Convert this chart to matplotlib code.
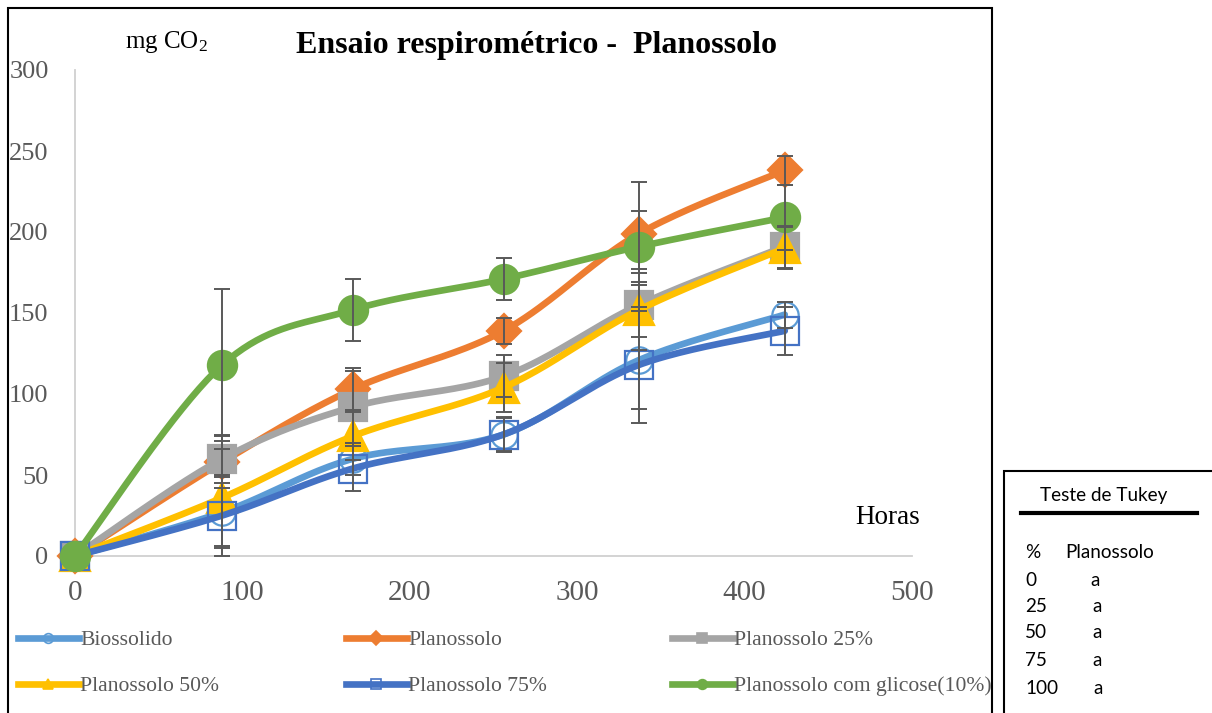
import numpy as np
import matplotlib.pyplot as plt
from matplotlib.lines import Line2D
from matplotlib.patches import Rectangle

plt.rcParams['font.family'] = ['Liberation Serif', 'DejaVu Serif']
plt.rcParams['mathtext.fontset'] = 'custom'
plt.rcParams['mathtext.rm'] = 'Liberation Serif'
plt.rcParams['mathtext.it'] = 'Liberation Serif:italic'

# data
horas = [0, 88, 166, 256, 337, 424]
biossolido = [0, 27, 60, 75, 121, 149]
planossolo = [0, 58, 103, 139, 199, 238]
plan25 = [0, 60, 92, 111, 155, 191]
plan50 = [0, 36, 74, 104, 152, 190]
plan75 = [0, 25, 54, 75, 118, 139]
glicose = [0, 118, 152, 171, 191, 209]

err_bio = [0, 22, 10, 11, 30, 8]
err_plan = [0, 16, 13, 8, 32, 9]
err_25 = [0, 15, 22, 13, 20, 13]
err_50 = [0, 30, 15, 15, 25, 13]
err_75 = [0, 25, 14, 10, 36, 15]
err_gli = [0, 47, 19, 13, 22, 20]

labels = ['Biossolido', 'Planossolo', 'Planossolo 25%',
          'Planossolo 50%', 'Planossolo 75%', 'Planossolo com glicose(10%)']

tukey_pct = ['0', '25', '50', '75', '100']
tukey_grp = ['a', 'a', 'a', 'a', 'a']

colors = ['#5B9BD5', '#ED7D31', '#A5A5A5', '#FFC000', '#4472C4', '#70AD47']
markers = ['o', 'D', 's', '^', 's', 'o']
filled = [False, True, True, True, False, True]
msizes = [19, 17, 20, 21, 20, 21]


def smooth(x, y, n=40):
    # excel style smoothed line (bezier with catmull-rom control points)
    p = np.column_stack([x, y]).astype(float)
    out = []
    for i in range(len(p) - 1):
        p0 = p[i - 1] if i > 0 else p[i]
        p1 = p[i]
        p2 = p[i + 1]
        p3 = p[i + 2] if i + 2 < len(p) else p[i + 1]
        c1 = p1 + (p2 - p0) / 6
        c2 = p2 - (p3 - p1) / 6
        t = np.linspace(0, 1, n)[:, None]
        b = (1 - t)**3 * p1 + 3 * (1 - t)**2 * t * c1 + 3 * (1 - t) * t**2 * c2 + t**3 * p2
        out.append(b if i == 0 else b[1:])
    out = np.vstack(out)
    return out[:, 0], out[:, 1]


fig = plt.figure(figsize=(12.12, 7.13), dpi=100, facecolor='white')
ax = fig.add_axes([75/1212, 1 - 556/713, (912 - 75)/1212, (556 - 70)/713])

all_y = [biossolido, planossolo, plan25, plan50, plan75, glicose]
all_err = [err_bio, err_plan, err_25, err_50, err_75, err_gli]

for i, (yv, c) in enumerate(zip(all_y, colors)):
    sx, sy = smooth(horas, yv)
    ax.plot(sx, sy, color=c, linewidth=4.8, solid_capstyle='round', zorder=2 + i, clip_on=False)
    ax.plot(horas, yv, linestyle='none', marker=markers[i], markersize=msizes[i],
            markerfacecolor=c if filled[i] else 'none', markeredgecolor=c,
            markeredgewidth=1.6, zorder=2 + i, clip_on=False)

for yv, e in zip(all_y, all_err):
    ax.errorbar(horas[1:], yv[1:], yerr=e[1:], fmt='none', ecolor='#595959',
                elinewidth=1.4, capsize=6, capthick=1.4, zorder=20)

ax.set_xlim(0, 500)
ax.set_ylim(0, 300)
ax.set_xticks(np.arange(0, 501, 100))
ax.set_yticks(np.arange(0, 301, 50))
ax.tick_params(axis='x', length=0, pad=17, labelsize=21, labelcolor='#595959')
ax.tick_params(axis='y', length=0, pad=19, labelsize=19, labelcolor='#595959')
for s in ['top', 'right']:
    ax.spines[s].set_visible(False)
for s in ['left', 'bottom']:
    ax.spines[s].set_color('#D0D0D0')
    ax.spines[s].set_linewidth(1.3)

fig.text(536/1212, 1 - 45/713, 'Ensaio respirométrico -  Planossolo', ha='center', va='center',
         fontsize=23, fontweight='bold', color='black')
fig.text(125/1212, 1 - 42/713, 'mg CO$_2$', ha='left', va='center', fontsize=18, color='black')
fig.text(855/1212, 1 - 517/713, 'Horas', ha='left', va='center', fontsize=19.5, color='black')

# legend: one column per legend so the columns sit where excel put them
handles = [Line2D([], [], color=c, linewidth=4.8, marker=m, markersize=7,
                  markerfacecolor=c if f else 'none', markeredgecolor=c, markeredgewidth=1.2)
           for c, m, f in zip(colors, markers, filled)]
col_x = [18, 346, 672]
col_items = [[0, 3], [1, 4], [2, 5]]
for cx, items in zip(col_x, col_items):
    leg = fig.legend([handles[k] for k in items], [labels[k] for k in items],
                     loc='upper left', bbox_to_anchor=(cx/1212, 1 - 630/713),
                     frameon=False, fontsize=15.6, handlelength=2.8, handletextpad=0.08,
                     labelspacing=1.2, borderpad=0, borderaxespad=0)
    for t in leg.get_texts():
        t.set_color('#595959')

# chart border
fig.patches.append(Rectangle((8/1212, -0.02), (992 - 8)/1212, 1.02 - 8/713 + 0.0,
                             transform=fig.transFigure, fill=False, edgecolor='black',
                             linewidth=1.5, zorder=50))

# Tukey box
fig.patches.append(Rectangle((1004/1212, -0.02), 0.2, 0.02 + 1 - 471/713,
                             transform=fig.transFigure, fill=False, edgecolor='black',
                             linewidth=1.5, zorder=50))
tk = dict(family=['Lato', 'DejaVu Sans'], fontsize=13.6, color='black', va='center')
fig.text(1040/1212, 1 - 495/713, 'Teste de Tukey', ha='left', **tk)
fig.add_artist(Line2D([1021/1212, 1197/1212], [1 - 513/713, 1 - 513/713],
                      transform=fig.transFigure, color='black', linewidth=3))
fig.text(1025/1212, 1 - 553/713, '%', ha='left', **tk)
fig.text(1065/1212, 1 - 553/713, 'Planossolo', ha='left', **tk)
rows_y = [580, 607, 633, 660, 688]
grp_x = [1090, 1092, 1092, 1092, 1093]
for p, g, yy, gx in zip(tukey_pct, tukey_grp, rows_y, grp_x):
    fig.text(1025/1212, 1 - yy/713, p, ha='left', **tk)
    fig.text(gx/1212, 1 - yy/713, g, ha='left', **tk)

fig.savefig('out.png', dpi=100, facecolor='white')
